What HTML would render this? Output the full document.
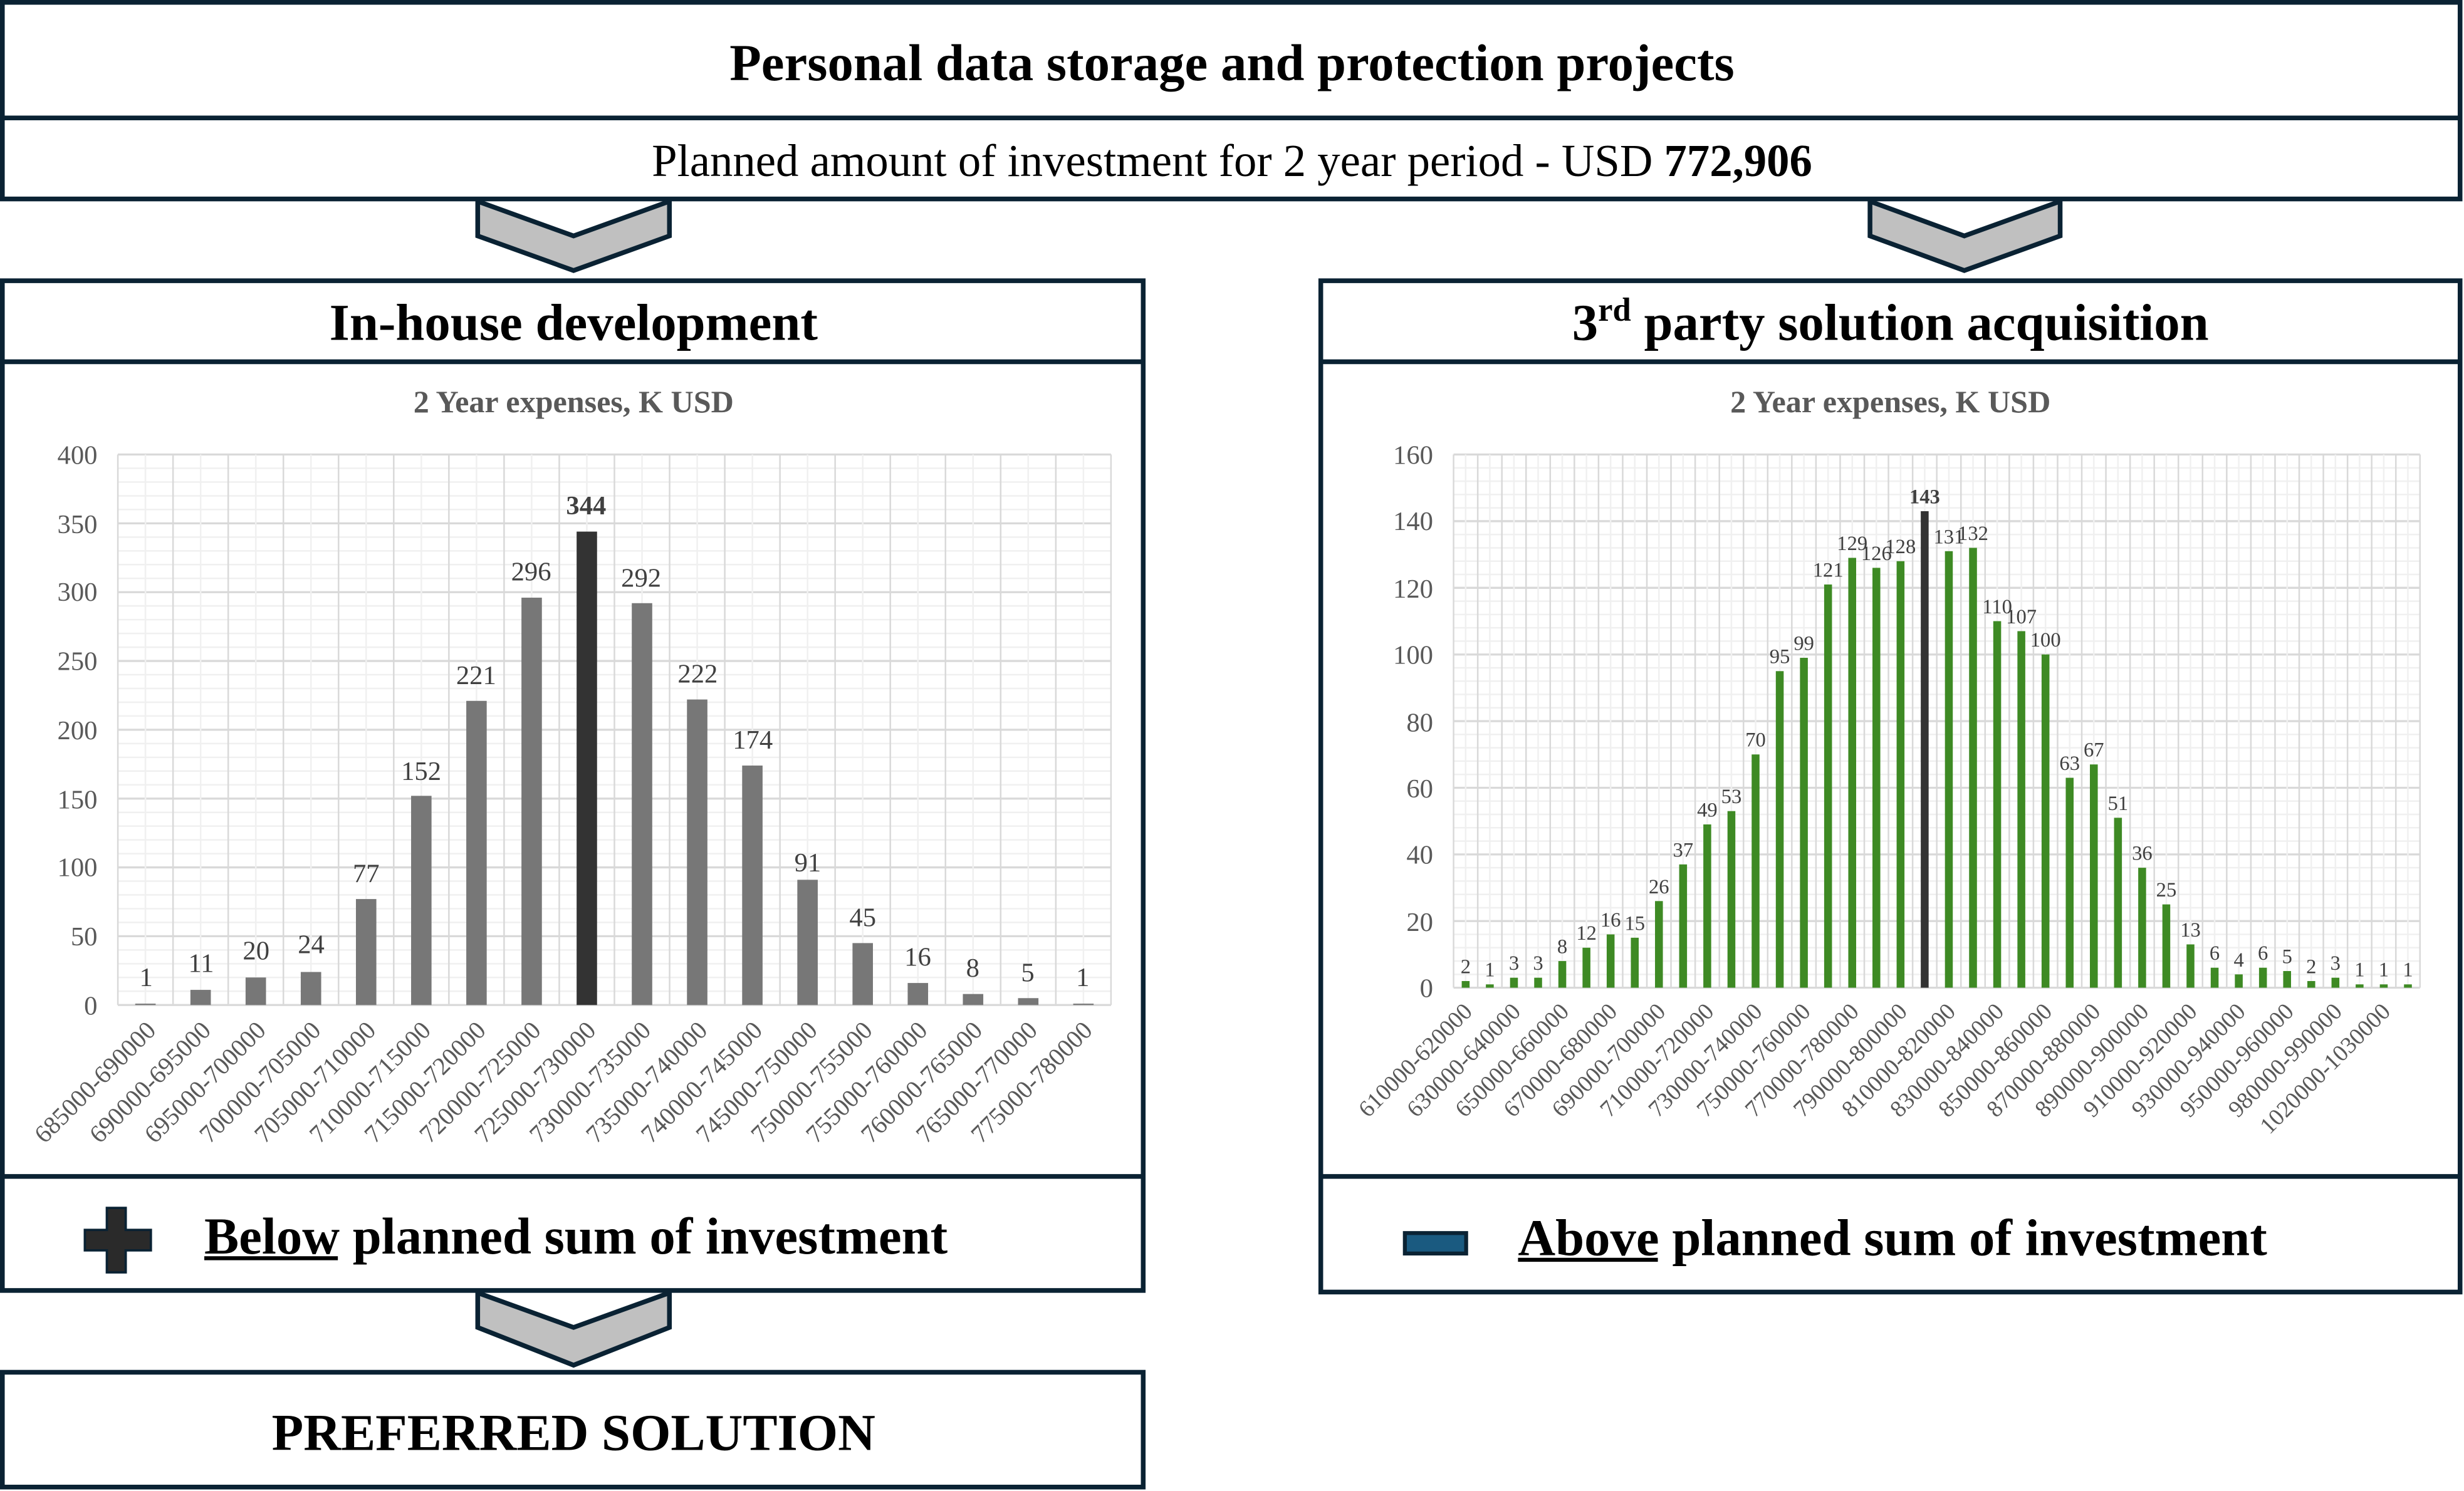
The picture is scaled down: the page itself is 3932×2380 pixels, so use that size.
<!DOCTYPE html>
<html><head><meta charset="utf-8"><style>
html,body{margin:0;padding:0;background:#fff;}
svg{display:block;}
text{font-family:"Liberation Serif",serif;}
</style></head><body>
<svg id="s" xmlns="http://www.w3.org/2000/svg" width="3932" height="2380" viewBox="0 0 1568 948" preserveAspectRatio="none">
<rect width="1568" height="948" fill="#fff"/>
<g id="grid"></g>
<g id="bars"></g>
<g fill="none" stroke="#0a2233" stroke-width="3">
<rect x="1.5" y="1.5" width="1564" height="125"/>
<line x1="0" y1="75" x2="1566" y2="75"/>
<rect x="1.5" y="178.5" width="726" height="642"/>
<line x1="0" y1="230" x2="728" y2="230"/>
<line x1="0" y1="748" x2="728" y2="748"/>
<rect x="840.5" y="178.5" width="725" height="643"/>
<line x1="840" y1="230" x2="1566" y2="230"/>
<line x1="840" y1="748" x2="1566" y2="748"/>
<rect x="1.5" y="872.5" width="726" height="73"/>
</g>
<g fill="#c0c0c0" stroke="#0a2233" stroke-width="3">
<polygon points="304,128 365,150 426,128 426,150 365,172 304,150"/>
<polygon points="1190,128 1250,150 1311,128 1311,150 1250,172 1190,150"/>
<polygon points="304,822 365,844 426,822 426,844 365,868 304,844"/>
</g>
<text x="784" y="51" font-size="33" font-weight="bold" text-anchor="middle">Personal data storage and protection projects</text>
<text x="784" y="112" font-size="29" text-anchor="middle">Planned amount of investment for 2 year period - USD <tspan font-weight="bold">772,906</tspan></text>
<text x="365" y="216" font-size="33" font-weight="bold" text-anchor="middle">In-house development</text>
<text x="1203" y="216" font-size="33" font-weight="bold" text-anchor="middle">3<tspan font-size="21" dy="-12">rd</tspan><tspan dy="12"> party solution acquisition</tspan></text>
<text x="365" y="262" font-size="20" font-weight="bold" fill="#595959" text-anchor="middle">2 Year expenses, K USD</text>
<text x="1203" y="262" font-size="20" font-weight="bold" fill="#595959" text-anchor="middle">2 Year expenses, K USD</text>
<path d="M68,768 h12 v14 h16 v13 h-16 v14 h-12 v-14 h-14 v-13 h14 z" fill="#2a2a2a" stroke="#0a2233" stroke-width="1.5"/>
<text x="130" y="797" font-size="33" font-weight="bold">Below planned sum of investment</text>
<line x1="130" y1="800" x2="215" y2="800" stroke="#000" stroke-width="2.5"/>
<rect x="894" y="784" width="39" height="13" fill="#1a5a80" stroke="#0a2233" stroke-width="2.5"/>
<text x="966" y="798" font-size="33" font-weight="bold">Above planned sum of investment</text>
<line x1="966" y1="801" x2="1055" y2="801" stroke="#000" stroke-width="2.5"/>
<text x="365" y="922" font-size="33" font-weight="bold" text-anchor="middle">PREFERRED SOLUTION</text>
<g font-size="17" fill="#595959" text-anchor="end">
<text x="62" y="645">0</text><text x="62" y="601">50</text><text x="62" y="557">100</text><text x="62" y="514">150</text><text x="62" y="470">200</text><text x="62" y="426">250</text><text x="62" y="382">300</text><text x="62" y="339">350</text><text x="62" y="295">400</text>
</g>
<g font-size="17" fill="#595959" text-anchor="end">
<text x="912" y="634">0</text><text x="912" y="592">20</text><text x="912" y="549">40</text><text x="912" y="507">60</text><text x="912" y="465">80</text><text x="912" y="422">100</text><text x="912" y="380">120</text><text x="912" y="337">140</text><text x="912" y="295">160</text>
</g>
<g font-size="17" fill="#404040" text-anchor="middle">
<text x="93" y="627">1</text><text x="128" y="618">11</text><text x="163" y="610">20</text><text x="198" y="606">24</text><text x="233" y="561">77</text><text x="268" y="496">152</text><text x="303" y="435">221</text><text x="338" y="369">296</text><text x="373" y="327" font-weight="bold">344</text><text x="408" y="373">292</text><text x="444" y="434">222</text><text x="479" y="476">174</text><text x="514" y="554">91</text><text x="549" y="589">45</text><text x="584" y="614">16</text><text x="619" y="621">8</text><text x="654" y="624">5</text><text x="689" y="627">1</text>
</g>
<g font-size="16" fill="#595959" text-anchor="end">
<text transform="translate(100,656) rotate(-45)">685000-690000</text>
<text transform="translate(135,656) rotate(-45)">690000-695000</text>
<text transform="translate(170,656) rotate(-45)">695000-700000</text>
<text transform="translate(205,656) rotate(-45)">700000-705000</text>
<text transform="translate(240,656) rotate(-45)">705000-710000</text>
<text transform="translate(275,656) rotate(-45)">710000-715000</text>
<text transform="translate(310,656) rotate(-45)">715000-720000</text>
<text transform="translate(345,656) rotate(-45)">720000-725000</text>
<text transform="translate(380,656) rotate(-45)">725000-730000</text>
<text transform="translate(415,656) rotate(-45)">730000-735000</text>
<text transform="translate(451,656) rotate(-45)">735000-740000</text>
<text transform="translate(486,656) rotate(-45)">740000-745000</text>
<text transform="translate(521,656) rotate(-45)">745000-750000</text>
<text transform="translate(556,656) rotate(-45)">750000-755000</text>
<text transform="translate(591,656) rotate(-45)">755000-760000</text>
<text transform="translate(626,656) rotate(-45)">760000-765000</text>
<text transform="translate(661,656) rotate(-45)">765000-770000</text>
<text transform="translate(696,656) rotate(-45)">775000-780000</text>
</g>
<g id="rlab" font-size="13" fill="#404040" text-anchor="middle">
<text>2</text><text>1</text><text>3</text><text>3</text><text>8</text><text>12</text><text>16</text><text>15</text><text>26</text><text>37</text><text>49</text><text>53</text><text>70</text><text>95</text><text>99</text><text>121</text><text>129</text><text>126</text><text>128</text><text font-weight="bold">143</text><text>131</text><text>132</text><text>110</text><text>107</text><text>100</text><text>63</text><text>67</text><text>51</text><text>36</text><text>25</text><text>13</text><text>6</text><text>4</text><text>6</text><text>5</text><text>2</text><text>3</text><text>1</text><text>1</text><text>1</text>
</g>
<g id="rcat" font-size="15" fill="#595959" text-anchor="end">
<text>610000-620000</text><text>630000-640000</text><text>650000-660000</text><text>670000-680000</text><text>690000-700000</text><text>710000-720000</text><text>730000-740000</text><text>750000-760000</text><text>770000-780000</text><text>790000-800000</text><text>810000-820000</text><text>830000-840000</text><text>850000-860000</text><text>870000-880000</text><text>890000-900000</text><text>910000-920000</text><text>930000-940000</text><text>950000-960000</text><text>980000-990000</text><text>1020000-1030000</text>
</g>
</svg>
<script>
var NS="http://www.w3.org/2000/svg";
function el(p,t,a){var e=document.createElementNS(NS,t);for(var k in a)e.setAttribute(k,a[k]);p.appendChild(e);return e;}
var g=document.getElementById('grid'),b=document.getElementById('bars');
function chart(x0,x1,y0,y1,n,max,step,vals,bw,col,pk){
 var w=(x1-x0)/n,h=y1-y0;
 var nm=max/step*5;
 for(var i=0;i<=nm;i++){var y=y1-h*i/nm;el(g,'line',{x1:x0,x2:x1,y1:y,y2:y,stroke:i%5?'#f0f0f0':'#d9d9d9','stroke-width':i%5?1:1.3});}
 for(var i=0;i<=n;i++){var x=x0+w*i;el(g,'line',{x1:x,x2:x,y1:y0,y2:y1,stroke:'#d9d9d9','stroke-width':1});
  if(i<n){var xm=x+w/2;el(g,'line',{x1:xm,x2:xm,y1:y0,y2:y1,stroke:'#f0f0f0','stroke-width':1});}}
 var cs=[];
 for(var i=0;i<n;i++){var c=x0+w*(i+.5),bh=vals[i]/max*h;cs.push([c,y1-bh]);
  el(b,'rect',{x:c-bw/2,y:y1-bh,width:bw,height:Math.max(bh,0.8),fill:i==pk?'#333':col});}
 return cs;
}
chart(75,707,289,639,18,400,50,[1,11,20,24,77,152,221,296,344,292,222,174,91,45,16,8,5,1],13,'#777',8);
var rv=[2,1,3,3,8,12,16,15,26,37,49,53,70,95,99,121,129,126,128,143,131,132,110,107,100,63,67,51,36,25,13,6,4,6,5,2,3,1,1,1];
var cs=chart(925,1540,289,628,40,160,20,rv,5,'#3e8a24',19);
var rl=document.getElementById('rlab').children;
for(var i=0;i<rl.length;i++){rl[i].setAttribute('x',cs[i][0]);rl[i].setAttribute('y',cs[i][1]-5);}
var rc=document.getElementById('rcat').children;
for(var i=0;i<rc.length;i++){var c=cs[2*i][0]+5;rc[i].setAttribute('transform','translate('+c+',644) rotate(-45)');}
</script>
</body></html>
